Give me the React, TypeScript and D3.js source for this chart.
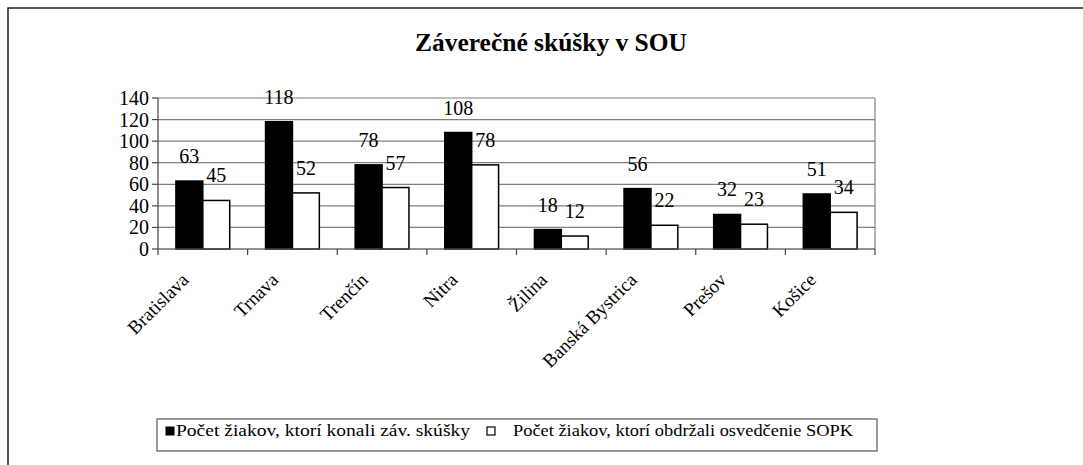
import React from "react";
import * as d3 from "d3";

const categories = ["Bratislava", "Trnava", "Trenčín", "Nitra", "Žilina", "Banská Bystrica", "Prešov", "Košice"];
const examTaken = [63, 118, 78, 108, 18, 56, 32, 51];
const certified = [45, 52, 57, 78, 12, 22, 23, 34];
const yTicks = [0, 20, 40, 60, 80, 100, 120, 140];
const seriesNames = [
  "Počet žiakov, ktorí konali záv. skúšky",
  "Počet žiakov, ktorí obdržali osvedčenie SOPK",
];
const seriesFills = ["#000000", "#ffffff"];
const title = "Záverečné skúšky v SOU";

const W = 1083;
const H = 465;
const plot = { left: 158, right: 875, top: 98, bottom: 249 };
const FONT = "Liberation Serif, Times New Roman, serif";
const ts = { fontFamily: FONT };

export default function App() {
  const x0 = d3.scaleBand<string>().domain(categories).range([plot.left, plot.right]).padding(0);
  const bw = x0.bandwidth();
  const x1 = d3
    .scaleBand<number>()
    .domain([0, 1])
    .range([bw * 0.2, bw * 0.8])
    .padding(0);
  const y = d3.scaleLinear().domain([0, 140]).range([plot.bottom, plot.top]);
  const series = [examTaken, certified];

  return (
    <svg
      width={W}
      height={H}
      style={{ position: "absolute", left: 0, top: 0, display: "block", background: "#fff", fontFamily: FONT }}
    >
      <rect x={0} y={0} width={W} height={H} fill="#fff" />
      <rect x={8} y={8} width={1200} height={600} fill="none" stroke="#222" strokeWidth={1.5} />

      <text
        x={551}
        y={51}
        textAnchor="middle"
        fontWeight="bold"
        fontSize={26}
        textLength={272}
        lengthAdjust="spacingAndGlyphs"
        fill="#000"
        style={ts}
      >
        {title}
      </text>

      {yTicks.map((t) => (
        <line key={"g" + t} x1={plot.left} x2={plot.right} y1={y(t)} y2={y(t)} stroke="#808080" strokeWidth={1.2} />
      ))}
      <line x1={plot.right} x2={plot.right} y1={plot.top} y2={plot.bottom} stroke="#808080" strokeWidth={1.2} />

      {series.map((vals, si) =>
        vals.map((v, i) => {
          const bx = (x0(categories[i]) as number) + (x1(si) as number);
          return (
            <rect
              key={"b" + si + "-" + i}
              x={bx}
              y={y(v)}
              width={x1.bandwidth()}
              height={plot.bottom - y(v)}
              fill={seriesFills[si]}
              stroke="#000"
              strokeWidth={1.5}
            />
          );
        })
      )}

      {series.map((vals, si) =>
        vals.map((v, i) => {
          const cx = (x0(categories[i]) as number) + (x1(si) as number) + x1.bandwidth() / 2;
          return (
            <text key={"l" + si + "-" + i} x={cx} y={y(v) - 18} textAnchor="middle" fontSize={20} fill="#000" style={ts}>
              {v}
            </text>
          );
        })
      )}

      <line x1={plot.left} x2={plot.left} y1={plot.top} y2={plot.bottom} stroke="#444" strokeWidth={1.2} />
      {yTicks.map((t) => (
        <g key={"yt" + t}>
          <line x1={plot.left - 6} x2={plot.left} y1={y(t)} y2={y(t)} stroke="#444" strokeWidth={1.2} />
          <text x={plot.left - 9} y={y(t) + 7} textAnchor="end" fontSize={20} fill="#000" style={ts}>
            {t}
          </text>
        </g>
      ))}

      <line x1={plot.left} x2={plot.right} y1={plot.bottom} y2={plot.bottom} stroke="#666" strokeWidth={1.2} />
      {categories.map((c) => (
        <line
          key={"xt" + c}
          x1={x0(c) as number}
          x2={x0(c) as number}
          y1={plot.bottom}
          y2={plot.bottom + 6}
          stroke="#444"
          strokeWidth={1.2}
        />
      ))}
      <line x1={plot.right} x2={plot.right} y1={plot.bottom} y2={plot.bottom + 6} stroke="#444" strokeWidth={1.2} />
      {categories.map((c) => {
        const cx = (x0(c) as number) + bw / 2;
        return (
          <text
            key={"xl" + c}
            transform={`translate(${cx - 13},${plot.bottom + 32}) rotate(-45)`}
            textAnchor="end"
            fontSize={19}
            fill="#000"
            style={ts}
          >
            {c}
          </text>
        );
      })}

      <rect x={157} y={419} width={720} height={32} fill="#fff" stroke="#555" strokeWidth={1.2} />
      <rect x={166} y={427} width={8} height={8} fill={seriesFills[0]} stroke="#000" strokeWidth={1} />
      <text x={176} y={436} fontSize={16} textLength={294} lengthAdjust="spacingAndGlyphs" fill="#000" style={ts}>
        {seriesNames[0]}
      </text>
      <rect x={487} y={427} width={8} height={8} fill={seriesFills[1]} stroke="#000" strokeWidth={1.2} />
      <text x={513} y={436} fontSize={16} textLength={340} lengthAdjust="spacingAndGlyphs" fill="#000" style={ts}>
        {seriesNames[1]}
      </text>
    </svg>
  );
}
